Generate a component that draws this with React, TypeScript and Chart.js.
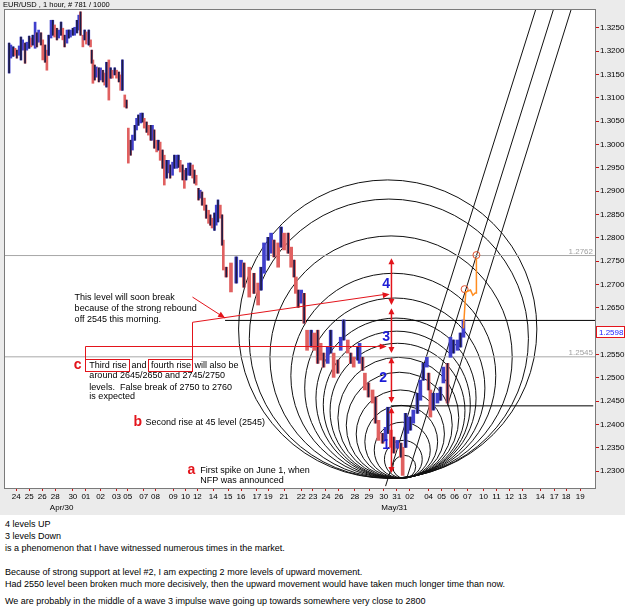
import React, { useEffect, useRef } from 'react';
import { Chart, registerables } from 'chart.js';
Chart.register(...registerables);

const FONT = '"Liberation Sans", Arial, sans-serif';

// ---- price data: sampled hourly bars (bar number, high, low) ----
const BAR_T = [7,10,14,17,20,24,27,30,34,37,41,44,47,51,54,57,61,64,68,71,74,78,81,84,88,91,95,98,101,105,108,111,115,118,122,125,128,132,135,138,142,145,147,149,152,155,159,162,166,169,172,176,179,182,186,189,193,196,199,203,206,209,213,216,220,223,226,230,233,236,240,243,247,250,253,257,260,263,267,270,274,277,280,284,287,291,294,297,301,304,307,311,314,318,321,324,328,331,334,338,341,345,348,351,355,358,361,365,368,370,375,383,392,400,405,414,422,429,434,439,446,451,456,463,468,473,480,485,490,493,497,502,507,512,519,524,530,535,540,547,552,557,564,569,574,581,586,591,598,601,606,610,616,623,628,633,640,645,649,654,659,665,671,674,679,682,687,692,699,704,709,715,718,721,726,733,738,743,750,755,760,767,772,777];
const BAR_HI = [1.3217,1.3213,1.3209,1.3206,1.3202,1.3211,1.3230,1.3224,1.3217,1.3219,1.3232,1.3228,1.3234,1.3262,1.3239,1.3245,1.3239,1.3224,1.3213,1.3202,1.3234,1.3266,1.3266,1.3256,1.3249,1.3245,1.3262,1.3249,1.3234,1.3245,1.3245,1.3245,1.3249,1.3251,1.3266,1.3277,1.3284,1.3234,1.3245,1.3241,1.3245,1.3224,1.3202,1.3181,1.3170,1.3166,1.3164,1.3164,1.3159,1.3153,1.3176,1.3181,1.3164,1.3159,1.3164,1.3159,1.3155,1.3149,1.3181,1.3106,1.3095,1.3035,1.3009,1.3020,1.3041,1.3056,1.3063,1.3067,1.3067,1.3056,1.3048,1.3041,1.3041,1.3041,1.3031,1.3009,1.3009,1.3005,1.2988,1.2977,1.2966,1.2966,1.2956,1.2962,1.2977,1.2977,1.2977,1.2966,1.2956,1.2945,1.2949,1.2960,1.2960,1.2956,1.2945,1.2934,1.2906,1.2902,1.2898,1.2885,1.2870,1.2859,1.2849,1.2842,1.2853,1.2870,1.2881,1.2870,1.2849,1.2795,1.2737,1.2746,1.2759,1.2752,1.2746,1.2737,1.2724,1.2703,1.2737,1.2789,1.2801,1.2810,1.2795,1.2789,1.2823,1.2810,1.2810,1.2780,1.2752,1.2716,1.2688,1.2688,1.2681,1.2602,1.2602,1.2596,1.2602,1.2574,1.2553,1.2566,1.2602,1.2553,1.2538,1.2587,1.2624,1.2581,1.2553,1.2544,1.2566,1.2574,1.2544,1.2510,1.2489,1.2474,1.2459,1.2409,1.2381,1.2394,1.2437,1.2388,1.2373,1.2366,1.2360,1.2351,1.2424,1.2416,1.2416,1.2431,1.2467,1.2495,1.2531,1.2544,1.2510,1.2474,1.2467,1.2467,1.2480,1.2523,1.2531,1.2587,1.2581,1.2581,1.2596,1.2624];
const BAR_LO = [1.3153,1.3185,1.3189,1.3191,1.3185,1.3191,1.3181,1.3202,1.3174,1.3202,1.3206,1.3209,1.3213,1.3206,1.3209,1.3219,1.3213,1.3181,1.3176,1.3159,1.3191,1.3228,1.3234,1.3230,1.3224,1.3228,1.3234,1.3224,1.3209,1.3217,1.3228,1.3230,1.3234,1.3234,1.3239,1.3245,1.3234,1.3209,1.3224,1.3215,1.3213,1.3209,1.3174,1.3131,1.3138,1.3144,1.3134,1.3138,1.3134,1.3127,1.3123,1.3095,1.3142,1.3142,1.3149,1.3142,1.3134,1.3116,1.3116,1.3080,1.3078,1.2960,1.2977,1.2988,1.3009,1.3031,1.3041,1.3046,1.3048,1.3035,1.3026,1.3020,1.3009,1.3009,1.2992,1.2984,1.2988,1.2966,1.2949,1.2913,1.2928,1.2939,1.2928,1.2934,1.2949,1.2949,1.2951,1.2941,1.2924,1.2906,1.2924,1.2934,1.2934,1.2928,1.2917,1.2913,1.2881,1.2885,1.2870,1.2859,1.2842,1.2831,1.2827,1.2821,1.2816,1.2827,1.2834,1.2842,1.2784,1.2731,1.2716,1.2684,1.2703,1.2716,1.2694,1.2673,1.2681,1.2656,1.2688,1.2724,1.2752,1.2767,1.2759,1.2737,1.2780,1.2774,1.2767,1.2737,1.2716,1.2681,1.2651,1.2660,1.2617,1.2559,1.2566,1.2559,1.2531,1.2538,1.2523,1.2531,1.2553,1.2501,1.2510,1.2559,1.2581,1.2553,1.2531,1.2523,1.2538,1.2531,1.2516,1.2474,1.2459,1.2446,1.2403,1.2366,1.2360,1.2366,1.2381,1.2351,1.2339,1.2349,1.2330,1.2291,1.2351,1.2381,1.2388,1.2403,1.2424,1.2452,1.2495,1.2523,1.2474,1.2416,1.2431,1.2446,1.2452,1.2489,1.2446,1.2544,1.2553,1.2559,1.2566,1.2587];
const DENSE_UNTIL_BAR = 370; // samples after this bar are spaced wider

// ---- axes ----
const X_TICKS = [19,41,63,85,115,137,162,189,208,235,255,285,306,326,353,378,400,427,446,473,502,522,544,566,593,617,642,664,686,718,740,762,784,811,833,855,877,907,931,951,975];
const X_LABELS = ['24','25','26','28','30','01','02','03','05','07','08','09','10','12','14','15','16','17','19','21','22','23','24','26','28','29','30','31','02','04','05','06','07','10','11','12','13','14','17','18','19'];
const MONTH_BARS = [96, 660];
const MONTH_LABELS = ['Apr/30', 'May/31'];
const Y_TICKS = [1.2300,1.2350,1.2400,1.2450,1.2500,1.2550,1.2650,1.2700,1.2750,1.2800,1.2850,1.2900,1.2950,1.3000,1.3050,1.3100,1.3150,1.3200,1.3250];
const CURRENT_PRICE = 1.2598;

// ---- drawn levels ----
const GRAY_LEVELS = [1.2762, 1.2545];
const BLACK_LEVELS = [1.2623, 1.2440];
const BLACK_FROM = [373, 654];
const BLACK_TO = [1000, 997];

// ---- Gann circles (tops) through a common low pivot ----
const PIVOT_BAR = 679;
const PIVOT_PRICE = 1.2285;
const CIRCLE_TOPS = [1.2924,1.2883,1.2804,1.2724,1.2671,1.2628,1.2600,1.2574,1.2544,1.2512,1.2474,1.2441,1.2405,1.2366,1.2334];

// ---- fan lines ----
const FAN_FROM_BAR = [645, 681, 750];
const FAN_FROM_PRICE = [1.2268, 1.2285, 1.2441];
const FAN_TO_BAR = [902, 932, 962];
const FAN_TO_PRICE = [1.3299, 1.3299, 1.3299];

// ---- wave counts ----
const WAVE_BAR = 655;
const WAVE_TOP = [1.2756, 1.2649, 1.2544, 1.2437];
const WAVE_BOTTOM = [1.2656, 1.2553, 1.2446, 1.2296];
const WAVE_LABELS = ['4', '3', '2', '1'];
const WAVE_LABEL_BAR = [646, 646, 641, 646];
const WAVE_LABEL_PRICE = [1.2701, 1.2587, 1.2499, 1.2356];

// ---- projected path ----
const PROJ_BARS = [777, 781, 789, 793, 797, 799, 799];
const PROJ_PRICES = [1.2606, 1.2684, 1.2688, 1.2677, 1.2682, 1.2682, 1.2756];
const PROJ_MARK_BARS = [779, 799];
const PROJ_MARK_PRICES = [1.2690, 1.2763];

// ---- notes ----
const NOTE_LEVEL_LINES = ['This level will soon break', 'because of the strong rebound', 'off 2545 this morning.'];
const NOTE_LEVEL_PRICES = [1.2673, 1.2649, 1.2626];
const NOTE_LEVEL_BAR = 118;
const NOTE_C_LINES = ['around 2645/2650 and 2745/2750', 'levels.  False break of 2750 to 2760', 'is expected'];
const NOTE_C_PRICES = [1.2527, 1.2504, 1.2480, 1.2459];
const NOTE_C_BAR = 143;
const NOTE_C_LETTER_BAR = 123;
const NOTE_LEVEL_ARROW_END = [373, 1.2628];
const NOTE_FOURTH_TURN = 1.2619;
const NOTE_FOURTH_END = [652, 1.2679];
const NOTE_THIRD_TURN = 1.2569;
const NOTE_THIRD_END = 647;
const NOTE_B = { letterBar: 225, bar: 238, price: 1.2405, text: 'Second rise at 45 level (2545)' };
const NOTE_A = { letterBar: 316, bar: 331, prices: [1.2302, 1.2279], lines: ['First spike on June 1, when', 'NFP was announced'] };

const BOTTOM_LINES = [
  '4 levels UP',
  '3 levels Down',
  'is a phenomenon that I have witnessed numerous times in the market.',
  '',
  'Because of strong support at level #2, I am expecting 2 more levels of upward movement.',
  'Had 2550 level been broken much more decisively, then the upward movement would have taken much longer time than now.',
  '',
  'We are probably in the middle of a wave 3 impulse wave going up towards somewhere very close to 2800',
];

const RED = '#e3141b';

function head(ctx: CanvasRenderingContext2D, x1: number, y1: number, x2: number, y2: number, len = 6, half = 3) {
  const a = Math.atan2(y2 - y1, x2 - x1);
  const c = Math.cos(a), s = Math.sin(a);
  ctx.beginPath();
  ctx.moveTo(x2, y2);
  ctx.lineTo(x2 - len * c + half * s, y2 - len * s - half * c);
  ctx.lineTo(x2 - len * c - half * s, y2 - len * s + half * c);
  ctx.closePath();
  ctx.fill();
}

function line(ctx: CanvasRenderingContext2D, pts: number[][]) {
  ctx.beginPath();
  pts.forEach(([x, y], i) => (i ? ctx.lineTo(x, y) : ctx.moveTo(x, y)));
  ctx.stroke();
}

const overlay = {
  id: 'overlay',
  beforeDraw(chart: any) {
    const { ctx, chartArea: a } = chart;
    ctx.save();
    ctx.fillStyle = '#ebebeb';
    ctx.fillRect(0, 0, chart.width, chart.height);
    ctx.fillStyle = '#ffffff';
    ctx.fillRect(a.left, a.top, a.right - a.left, a.bottom - a.top);
    ctx.restore();
  },
  beforeDatasetsDraw(chart: any) {
    const { ctx, chartArea: a, scales: { x, y } } = chart;
    ctx.save();
    ctx.beginPath();
    ctx.rect(a.left, a.top, a.right - a.left, a.bottom - a.top);
    ctx.clip();
    const Px = x.getPixelForValue(PIVOT_BAR);
    const Py = y.getPixelForValue(PIVOT_PRICE);
    ctx.strokeStyle = '#111';
    ctx.lineWidth = 1;
    CIRCLE_TOPS.forEach((t) => {
      const r = (Py - y.getPixelForValue(t)) / 2;
      ctx.beginPath();
      ctx.arc(Px - 0.12 * r, Py - r, r, 0, Math.PI * 2);
      ctx.stroke();
    });
    ctx.restore();
  },
  afterDatasetsDraw(chart: any) {
    const { ctx, chartArea: a, scales: { x, y } } = chart;
    const X = (v: number) => x.getPixelForValue(v);
    const Y = (v: number) => y.getPixelForValue(v);
    ctx.save();
    ctx.beginPath();
    ctx.rect(a.left, a.top, a.right - a.left, a.bottom - a.top);
    ctx.clip();

    ctx.strokeStyle = RED;
    ctx.fillStyle = RED;
    ctx.lineWidth = 1.5;
    const wx = X(WAVE_BAR);
    WAVE_TOP.forEach((t, i) => {
      const y1 = Y(t), y2 = Y(WAVE_BOTTOM[i]);
      line(ctx, [[wx, y1 + 2], [wx, y2 - 2]]);
      head(ctx, wx, y2, wx, y1, 6, 3);
      head(ctx, wx, y1, wx, y2, 6, 3);
    });
    ctx.font = `bold 14px ${FONT}`;
    ctx.fillStyle = '#1c1cd6';
    ctx.textAlign = 'center';
    ctx.textBaseline = 'middle';
    WAVE_LABELS.forEach((l, i) => ctx.fillText(l, X(WAVE_LABEL_BAR[i]), Y(WAVE_LABEL_PRICE[i])));

    ctx.fillStyle = '#000';
    ctx.textAlign = 'left';
    ctx.font = `9px ${FONT}`;
    NOTE_LEVEL_LINES.forEach((l, i) => ctx.fillText(l, X(NOTE_LEVEL_BAR), Y(NOTE_LEVEL_PRICES[i])));
    const cx0 = X(NOTE_C_BAR);
    const cy0 = Y(NOTE_C_PRICES[0]);
    const p1 = 'Third rise', p2 = ' and ', p3 = 'fourth rise', p4 = ' will also be';
    const w1 = ctx.measureText(p1).width, w2 = ctx.measureText(p2).width, w3 = ctx.measureText(p3).width;
    ctx.fillText(p1, cx0, cy0);
    ctx.fillText(p2, cx0 + w1 + 2, cy0);
    ctx.fillText(p3, cx0 + w1 + w2 + 4, cy0);
    ctx.fillText(p4, cx0 + w1 + w2 + w3 + 5, cy0);
    NOTE_C_LINES.forEach((l, i) => ctx.fillText(l, cx0, Y(NOTE_C_PRICES[i + 1])));
    ctx.fillText(NOTE_B.text, X(NOTE_B.bar), Y(NOTE_B.price));
    NOTE_A.lines.forEach((l, i) => ctx.fillText(l, X(NOTE_A.bar), Y(NOTE_A.prices[i])));

    ctx.fillStyle = RED;
    ctx.font = `bold 14px ${FONT}`;
    ctx.textAlign = 'center';
    ctx.fillText('c', X(NOTE_C_LETTER_BAR), cy0);
    ctx.fillText('b', X(NOTE_B.letterBar), Y(NOTE_B.price));
    ctx.fillText('a', X(NOTE_A.letterBar), Y(NOTE_A.prices[0]));

    ctx.strokeStyle = RED;
    ctx.fillStyle = RED;
    ctx.lineWidth = 1;
    const bTop = cy0 - 6, bH = 12;
    const b1L = cx0 - 4.5, b1R = cx0 + w1 + 1.5;
    const b2L = cx0 + w1 + w2 + 1.5, b2R = cx0 + w1 + w2 + w3 + 5;
    ctx.strokeRect(Math.round(b1L) + 0.5, Math.round(bTop) + 0.5, Math.round(b1R - b1L), bH);
    ctx.strokeRect(Math.round(b2L) + 0.5, Math.round(bTop) + 0.5, Math.round(b2R - b2L), bH);
    const tl = Math.round(b1L) + 0.5;
    const ty = Math.round(Y(NOTE_THIRD_TURN)) + 0.5;
    const te = X(NOTE_THIRD_END);
    line(ctx, [[tl, bTop], [tl, ty], [te - 4, ty]]);
    head(ctx, tl, ty, te, ty, 7, 3);
    const fr = Math.round(b2R) + 0.5;
    const fy = Y(NOTE_FOURTH_TURN);
    const fex = X(NOTE_FOURTH_END[0]), fey = Y(NOTE_FOURTH_END[1]);
    line(ctx, [[fr, bTop], [fr, fy], [fex - 4, fey]]);
    head(ctx, fr, fy, fex, fey, 7, 3);
    const ly = Y(NOTE_LEVEL_PRICES[0]);
    const lex = X(NOTE_LEVEL_ARROW_END[0]), ley = Y(NOTE_LEVEL_ARROW_END[1]);
    line(ctx, [[fr, ly], [lex, ley]]);
    head(ctx, fr, ly, lex, ley, 7, 3);

    ctx.fillStyle = '#a0a0a0';
    ctx.font = `8px ${FONT}`;
    ctx.textAlign = 'right';
    ctx.textBaseline = 'bottom';
    GRAY_LEVELS.forEach((g) => ctx.fillText(g.toFixed(4), a.right - 2, Y(g)));
    ctx.restore();
  },
  afterDraw(chart: any) {
    const { ctx, chartArea: a, scales: { x, y } } = chart;
    ctx.save();
    ctx.strokeStyle = '#7a7a7a';
    ctx.lineWidth = 1;
    ctx.strokeRect(a.left - 0.5, a.top - 0.5, a.right - a.left + 1, a.bottom - a.top + 1);
    ctx.fillStyle = '#000';
    ctx.font = `7.5px ${FONT}`;
    ctx.textBaseline = 'middle';
    ctx.textAlign = 'left';
    ctx.fillText('EUR/USD , 1 hour, # 781 / 1000', 3, 5);
    ctx.font = `8px ${FONT}`;
    ctx.textAlign = 'center';
    MONTH_LABELS.forEach((m, i) => ctx.fillText(m, x.getPixelForValue(MONTH_BARS[i]), a.bottom + 20));
    const cy = y.getPixelForValue(CURRENT_PRICE);
    ctx.fillStyle = '#ffffff';
    ctx.fillRect(a.right + 1, cy - 6, 28, 12);
    ctx.strokeStyle = RED;
    ctx.strokeRect(a.right + 1.5, Math.round(cy) - 5.5, 28, 11);
    ctx.fillStyle = '#2020ff';
    ctx.textAlign = 'left';
    ctx.fillText(CURRENT_PRICE.toFixed(4), a.right + 4, cy + 0.5);
    ctx.restore();
  },
};

export default function App() {
  const ref = useRef<HTMLCanvasElement>(null);
  useEffect(() => {
    const mk = (dense: boolean) => {
      const idx = BAR_T.map((t, i) => i).filter((i) => (BAR_T[i] <= DENSE_UNTIL_BAR) === dense);
      return {
        data: idx.map((i) => ({ x: BAR_T[i], y: [BAR_LO[i], BAR_HI[i]] })),
        colors: idx.map((i) => {
          const mid = BAR_HI[i] + BAR_LO[i];
          const prev = i ? BAR_HI[i - 1] + BAR_LO[i - 1] : mid;
          return mid >= prev ? '#4040cc' : '#e06060';
        }),
        wicks: idx.map((i) => (i % 2 === 0 ? '#1c1c44' : 'rgba(0,0,0,0)')),
      };
    };
    const d1 = mk(true), d2 = mk(false);
    const datasets: any[] = [
      {
        type: 'line',
        data: PROJ_BARS.map((b, i) => ({ x: b, y: PROJ_PRICES[i] })),
        borderColor: '#ff8c1f', borderWidth: 1.5, pointRadius: 0, order: 0,
      },
      {
        type: 'line',
        data: PROJ_MARK_BARS.map((b, i) => ({ x: b, y: PROJ_MARK_PRICES[i] })),
        showLine: false, pointRadius: 3.5, pointBorderColor: '#e2502c', pointBackgroundColor: 'rgba(0,0,0,0)', pointBorderWidth: 1, order: 0,
      },
      { type: 'bar', data: d1.data, backgroundColor: d1.wicks, barThickness: 1, grouped: false, borderWidth: 0, order: 1 },
      { type: 'bar', data: d2.data, backgroundColor: d2.wicks, barThickness: 1, grouped: false, borderWidth: 0, order: 1 },
      { type: 'bar', data: d1.data, backgroundColor: d1.colors, barThickness: 2, grouped: false, borderWidth: 0, order: 2 },
      { type: 'bar', data: d2.data, backgroundColor: d2.colors, barThickness: 3, grouped: false, borderWidth: 0, order: 2 },
    ];
    GRAY_LEVELS.forEach((g) => datasets.push({
      type: 'line', data: [{ x: 0, y: g }, { x: 1000, y: g }], borderColor: '#a8a8a8', borderWidth: 1, pointRadius: 0, order: 5,
    }));
    BLACK_LEVELS.forEach((g, i) => datasets.push({
      type: 'line', data: [{ x: BLACK_FROM[i], y: g }, { x: BLACK_TO[i], y: g }], borderColor: '#000', borderWidth: 1, pointRadius: 0, order: 5,
    }));
    FAN_FROM_BAR.forEach((b, i) => datasets.push({
      type: 'line', data: [{ x: b, y: FAN_FROM_PRICE[i] }, { x: FAN_TO_BAR[i], y: FAN_TO_PRICE[i] }], borderColor: '#111', borderWidth: 1, pointRadius: 0, order: 5,
    }));

    const chart = new Chart(ref.current as HTMLCanvasElement, {
      type: 'bar',
      data: { datasets },
      plugins: [overlay],
      options: {
        animation: false,
        responsive: false,
        devicePixelRatio: 1,
        events: [],
        layout: { padding: { top: 10, left: 3, right: 0, bottom: 0 } },
        plugins: { legend: { display: false }, tooltip: { enabled: false } },
        scales: {
          x: {
            type: 'linear', min: 0, max: 1000, offset: false,
            afterBuildTicks: (s: any) => { s.ticks = X_TICKS.map((v) => ({ value: v })); },
            afterFit: (s: any) => { s.height = 27; },
            grid: { drawOnChartArea: false, tickLength: 3, tickColor: '#d01010', offset: false },
            border: { display: false },
            ticks: {
              autoSkip: false, maxRotation: 0, minRotation: 0, padding: 1, color: '#000',
              font: { family: FONT, size: 8 },
              callback: (_v: any, i: number) => X_LABELS[i],
            },
          },
          y: {
            type: 'linear', position: 'right', min: 1.2264, max: 1.3288,
            afterBuildTicks: (s: any) => { s.ticks = Y_TICKS.map((v) => ({ value: v })); },
            afterFit: (s: any) => { s.width = 30; },
            grid: { drawOnChartArea: false, tickLength: 4, tickColor: '#d01010' },
            border: { display: false },
            ticks: {
              autoSkip: false, padding: 1, color: '#000',
              font: { family: FONT, size: 8 },
              callback: (v: any) => Number(v).toFixed(4),
            },
          },
        },
      } as any,
    });
    return () => chart.destroy();
  }, []);

  const tops = [518, 530, 542, 554, 566, 578, 590, 595];
  return (
    <div style={{ position: 'absolute', left: 0, top: 0, width: 625, height: 606, background: '#fff', overflow: 'hidden' }}>
      <canvas ref={ref} width={625} height={515} style={{ display: 'block', width: 625, height: 515 }} />
      {BOTTOM_LINES.map((l, i) => (l ? (
        <div key={i} style={{ position: 'absolute', left: 5, top: tops[i], font: `9px ${FONT}`, lineHeight: '12px', color: '#000', whiteSpace: 'nowrap' }}>{l}</div>
      ) : null))}
    </div>
  );
}
